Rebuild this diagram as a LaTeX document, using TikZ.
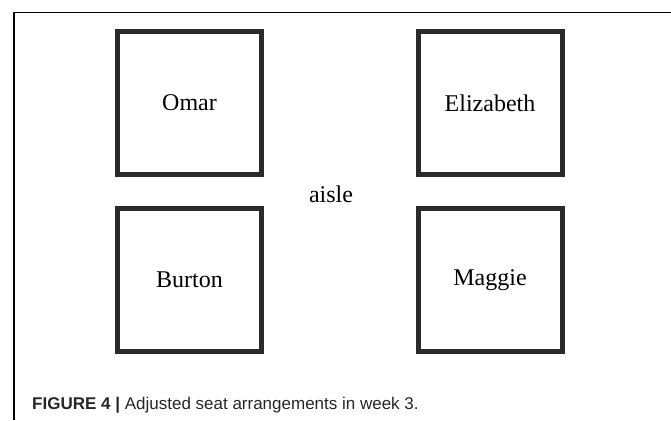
\documentclass[tikz,border=0pt]{standalone}
\usepackage{fontspec}
\setmainfont{Liberation Serif}
\newfontfamily\capfont{Liberation Sans}
\begin{document}
\begin{tikzpicture}[x=1pt,y=-1pt,
  seat/.style={draw=black!83, line width=5pt, minimum width=144pt, minimum height=143pt, inner sep=0pt, font=\fontsize{24}{28}\selectfont},
  frameline/.style={draw=black, line width=1.2pt}]
\useasboundingbox (0,0) rectangle (671,420);
% figure frame (top and left edges)
\coordinate (ftl) at (14,12.5);
\coordinate (ftr) at (671,12.5);
\coordinate (fbl) at (14,420);
\draw[frameline] (ftr) -- (ftl) -- (fbl);
% seats
\node[seat] (omar) at (189.5,103) {Omar};
\node[seat] (eliz) at (490,103) {Elizabeth};
\node[seat] (burton) at (189.5,280) {Burton};
\node[seat] (maggie) at (490,280) {Maggie};
% aisle label
\node[anchor=base, inner sep=0pt, font=\fontsize{24}{28}\selectfont] (aisle) at (331,202) {aisle};
% caption
\node[anchor=base west, inner sep=0pt, font=\capfont\fontsize{17}{20}\selectfont, text=black!85] (cap) at (32,409)
  {\textbf{FIGURE 4} \textbf{|} Adjusted seat arrangements in week 3.};
\end{tikzpicture}
\end{document}
